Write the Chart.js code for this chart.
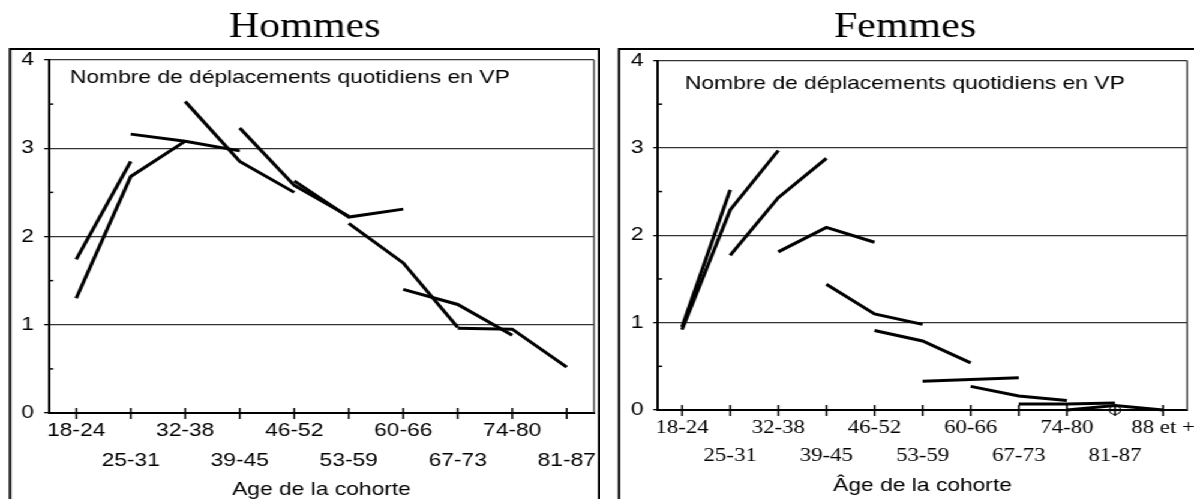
<!DOCTYPE html>
<html>
<head>
<meta charset="utf-8">
<script src="https://cdn.jsdelivr.net/npm/chart.js@4"></script>
<style>
html, body { margin: 0; padding: 0; background: #fff; overflow: hidden; }
/* the source picture is stretched horizontally, so the whole stage is too */
#stage { position: absolute; left: 0; top: 0; width: 995px; height: 499px; transform: scaleX(1.2); transform-origin: 0 0; }
#hommes { position: absolute; left: 0; top: 0; }
#femmes { position: absolute; left: 500px; top: 0; }
</style>
</head>
<body>
<div id="stage">
  <canvas id="hommes" width="500" height="499"></canvas>
  <canvas id="femmes" width="495" height="499"></canvas>
</div>
<script>
var agesHommes = ['18-24', '25-31', '32-38', '39-45', '46-52', '53-59', '60-66', '67-73', '74-80', '81-87'];
var agesFemmes = ['18-24', '25-31', '32-38', '39-45', '46-52', '53-59', '60-66', '67-73', '74-80', '81-87', '88 et +'];

// Hommes : une ligne par cohorte
var h1 = [1.30, 2.68, 3.08, null, null, null, null, null, null, null];
var h2 = [1.74, 2.85, null, null, null, null, null, null, null, null];
var h3 = [null, 3.16, 3.08, 2.97, null, null, null, null, null, null];
var h4 = [null, null, 3.53, 2.85, 2.50, null, null, null, null, null];
var h5 = [null, null, null, 3.23, 2.58, 2.23, null, null, null, null];
var h6 = [null, null, null, null, 2.63, 2.22, 2.31, null, null, null];
var h7 = [null, null, null, null, null, 2.15, 1.70, 0.97, null, null];
var h8 = [null, null, null, null, null, null, 1.40, 1.23, 0.88, null];
var h9 = [null, null, null, null, null, null, null, 0.96, 0.95, 0.52];

// Femmes
var f1 = [0.95, 2.52, null, null, null, null, null, null, null, null, null];
var f2 = [0.92, 2.29, 2.97, null, null, null, null, null, null, null, null];
var f3 = [null, 1.77, 2.43, 2.88, null, null, null, null, null, null, null];
var f4 = [null, null, 1.81, 2.09, 1.92, null, null, null, null, null, null];
var f5 = [null, null, null, 1.44, 1.10, 0.98, null, null, null, null, null];
var f6 = [null, null, null, null, 0.91, 0.79, 0.54, null, null, null, null];
var f7 = [null, null, null, null, null, 0.33, 0.35, 0.37, null, null, null];
var f8 = [null, null, null, null, null, null, 0.27, 0.16, 0.11, null, null];
var f9 = [null, null, null, null, null, null, null, 0.07, 0.07, 0.08, null];
var f10 = [null, null, null, null, null, null, null, null, 0.00, 0.05, 0.00];
var f11 = [null, null, null, null, null, null, null, null, null, 0.00, null];

var SANS = '"Liberation Sans", Arial, sans-serif';
var SERIF = '"Liberation Serif", "Times New Roman", serif';
var FS = 19;

function cohorte(values) {
    return {
        data: values,
        borderColor: '#000',
        backgroundColor: '#000',
        borderWidth: 3,
        pointRadius: 0,
        tension: 0,
        clip: false
    };
}

function decor(p) {
    return {
        id: 'decor',
        afterDraw: function(chart) {
            var ctx = chart.ctx, a = chart.chartArea, x = chart.scales.x, y = chart.scales.y;
            ctx.save();
            // outer frame
            ctx.strokeStyle = '#000';
            ctx.lineWidth = 2;
            ctx.strokeRect(p.boxLeft, 49, p.boxRight - p.boxLeft, 520);
            // right edge of plot area
            ctx.strokeStyle = '#333';
            ctx.lineWidth = 1.3;
            ctx.beginPath();
            ctx.moveTo(a.right, a.top);
            ctx.lineTo(a.right, a.bottom);
            ctx.stroke();
            // x ticks crossing the axis
            ctx.strokeStyle = '#000';
            ctx.lineWidth = 1.5;
            x.ticks.forEach(function(t, i) {
                var px = x.getPixelForTick(i);
                ctx.beginPath();
                ctx.moveTo(px, a.bottom - 5);
                ctx.lineTo(px, a.bottom + 6);
                ctx.stroke();
            });
            // minor y ticks, inside
            [0.5, 1.5, 2.5, 3.5].forEach(function(v) {
                var py = y.getPixelForValue(v);
                ctx.beginPath();
                ctx.moveTo(a.left, py);
                ctx.lineTo(a.left + 3.5, py);
                ctx.stroke();
            });
            ctx.fillStyle = '#000';
            ctx.font = '35px ' + SERIF;
            ctx.textAlign = 'center';
            ctx.textBaseline = 'alphabetic';
            ctx.fillText(p.title, p.titleX, 37);
            ctx.font = FS + 'px ' + SANS;
            ctx.textAlign = 'left';
            ctx.fillText('Nombre de déplacements quotidiens en VP', p.noteX, p.noteY);
            ctx.restore();
        }
    };
}

function makeChart(id, o) {
    return new Chart(document.getElementById(id), {
        type: 'line',
        data: {
            labels: o.labels,
            datasets: o.series.map(cohorte).concat(o.extra || [])
        },
        options: {
            responsive: false,
            animation: false,
            layout: { padding: o.padding },
            plugins: { legend: { display: false }, tooltip: { enabled: false } },
            scales: {
                x: {
                    type: 'category',
                    offset: true,
                    grid: { display: false, drawTicks: false },
                    border: { display: true, color: '#000', width: 2 },
                    ticks: {
                        autoSkip: false,
                        maxRotation: 0,
                        padding: o.xPad,
                        color: '#000',
                        font: { family: o.xFont, size: FS, lineHeight: o.xLine },
                        callback: function(v, i) {
                            var lab = this.getLabelForValue(v);
                            return i % 2 === 0 ? [lab, ''] : ['', lab];
                        }
                    },
                    title: {
                        display: true,
                        text: o.xTitle,
                        color: '#000',
                        font: { family: SANS, size: FS, lineHeight: 1 },
                        padding: { top: 0, bottom: o.titlePad }
                    },
                    afterFit: function(s) {
                        s.height = o.xHeight;
                        s.paddingLeft = 0;
                        s.paddingRight = 0;
                    }
                },
                y: {
                    min: 0,
                    max: 4,
                    ticks: {
                        stepSize: 0.5,
                        padding: o.yPad,
                        color: '#000',
                        font: { family: SANS, size: FS },
                        callback: function(v) { return Number.isInteger(v) ? v : ''; }
                    },
                    grid: {
                        lineWidth: 1.3,
                        tickLength: 4,
                        color: function(c) { return Number.isInteger(c.tick.value) ? '#333' : 'rgba(0,0,0,0)'; },
                        tickColor: function(c) { return Number.isInteger(c.tick.value) ? '#000' : 'rgba(0,0,0,0)'; }
                    },
                    border: { display: true, color: '#000', width: 2 },
                    afterFit: function(s) { s.width = o.yWidth; }
                }
            }
        },
        plugins: [decor(o.decor)]
    });
}

makeChart('hommes', {
    labels: agesHommes,
    series: [h1, h2, h3, h4, h5, h6, h7, h8, h9],
    padding: { top: 60, right: 5, bottom: 0, left: 0 },
    xFont: SANS, xLine: 1.55, xPad: 3.5, xHeight: 86,
    xTitle: 'Age de la cohorte', titlePad: 0,
    yPad: 8.5, yWidth: 40.83,
    decor: { boxLeft: 8.33, boxRight: 499.2, title: 'Hommes', titleX: 254, noteX: 58.3, noteY: 82.7 }
});

makeChart('femmes', {
    labels: agesFemmes,
    series: [f1, f2, f3, f4, f5, f6, f7, f8, f9, f10],
    extra: [{
        data: f11,
        showLine: false,
        pointStyle: 'circle',
        pointRadius: 4.5,
        borderColor: '#000',
        borderWidth: 1.2,
        backgroundColor: 'rgba(0,0,0,0)',
        clip: false
    }],
    padding: { top: 60.5, right: 2.5, bottom: 0, left: 0 },
    xFont: SERIF, xLine: 1.47, xPad: 4.5, xHeight: 89,
    xTitle: 'Âge de la cohorte', titlePad: 3.3,
    yPad: 8, yWidth: 48.33,
    decor: { boxLeft: 15.8, boxRight: 520, title: 'Femmes', titleX: 254.2, noteX: 70.8, noteY: 89.3 }
});
</script>
</body>
</html>
